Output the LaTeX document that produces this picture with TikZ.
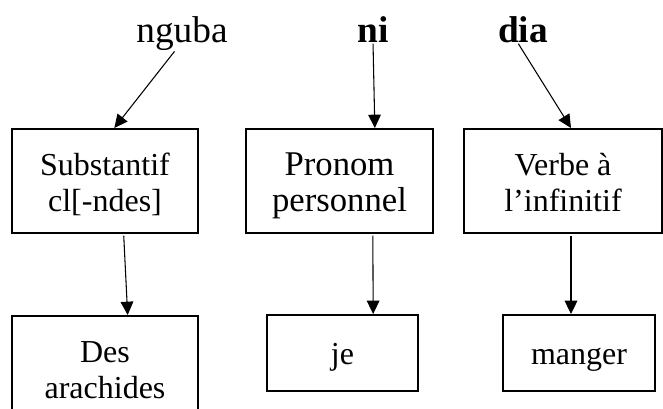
\documentclass[tikz,border=0pt]{standalone}
\usepackage{fontspec}
\setmainfont{Liberation Serif}
\usetikzlibrary{positioning,arrows.meta}

\begin{document}
\begin{tikzpicture}[
  x=0.75pt, y=-0.75pt,
  word/.style={inner sep=0pt, anchor=base, font=\fontsize{28}{32}\selectfont},
  catbox/.style={draw, line width=1.8pt, anchor=north, align=center, inner sep=0pt,
    text height=61.5pt, text depth=16.5pt, font=\fontsize{24}{27}\selectfont},
  glossbox/.style={catbox, text height=36.75pt, text depth=20.25pt},
  linkedge/.style={draw, line width=0.8pt, shorten <=1pt, -{Triangle[length=10pt,width=9.5pt]}}
]
  \useasboundingbox (0,0) rectangle (663,408);
  \clip (0,0) rectangle (663,408);

  % the words
  \node[word] (nguba) at (182,42) {nguba};
  \node[word] (ni) at (373,42) {\textbf{ni}};
  \node[word] (dia) at (523,42) {\textbf{dia}};

  % categories
  \node[catbox, minimum width=139.5pt] (subst) at (105,128) {Substantif\\cl[-ndes]};
  \node[catbox, minimum width=140pt, font=\fontsize{26}{27}\selectfont] (pron) at (339.5,128) {Pronom\\personnel};
  \node[catbox, minimum width=148.5pt] (verbe) at (563,128) {Verbe à\\l’infinitif};

  % glosses
  \node[catbox, minimum width=139.5pt] (arach) at (105,315) {Des\\arachides};
  \node[glossbox, minimum width=113pt] (je) at (342.5,314) {je};
  \node[glossbox, minimum width=114pt] (manger) at (579,314) {manger};

  \draw[linkedge] ([xshift=-5pt]nguba.south) -- ([xshift=7pt]subst.north);
  \draw[linkedge] (ni.south) -- ([xshift=26.5pt]pron.north);
  \draw[linkedge] ([xshift=-4pt]dia.south) -- ([xshift=6pt]verbe.north);

  \draw[linkedge] ([xshift=14pt]subst.south) -- ([xshift=17pt]arach.north);
  \draw[linkedge] ([xshift=25pt]pron.south) -- ([xshift=23pt]je.north);
  \draw[linkedge] ([xshift=6pt]verbe.south) -- ([xshift=-6pt]manger.north);

\end{tikzpicture}
\end{document}
